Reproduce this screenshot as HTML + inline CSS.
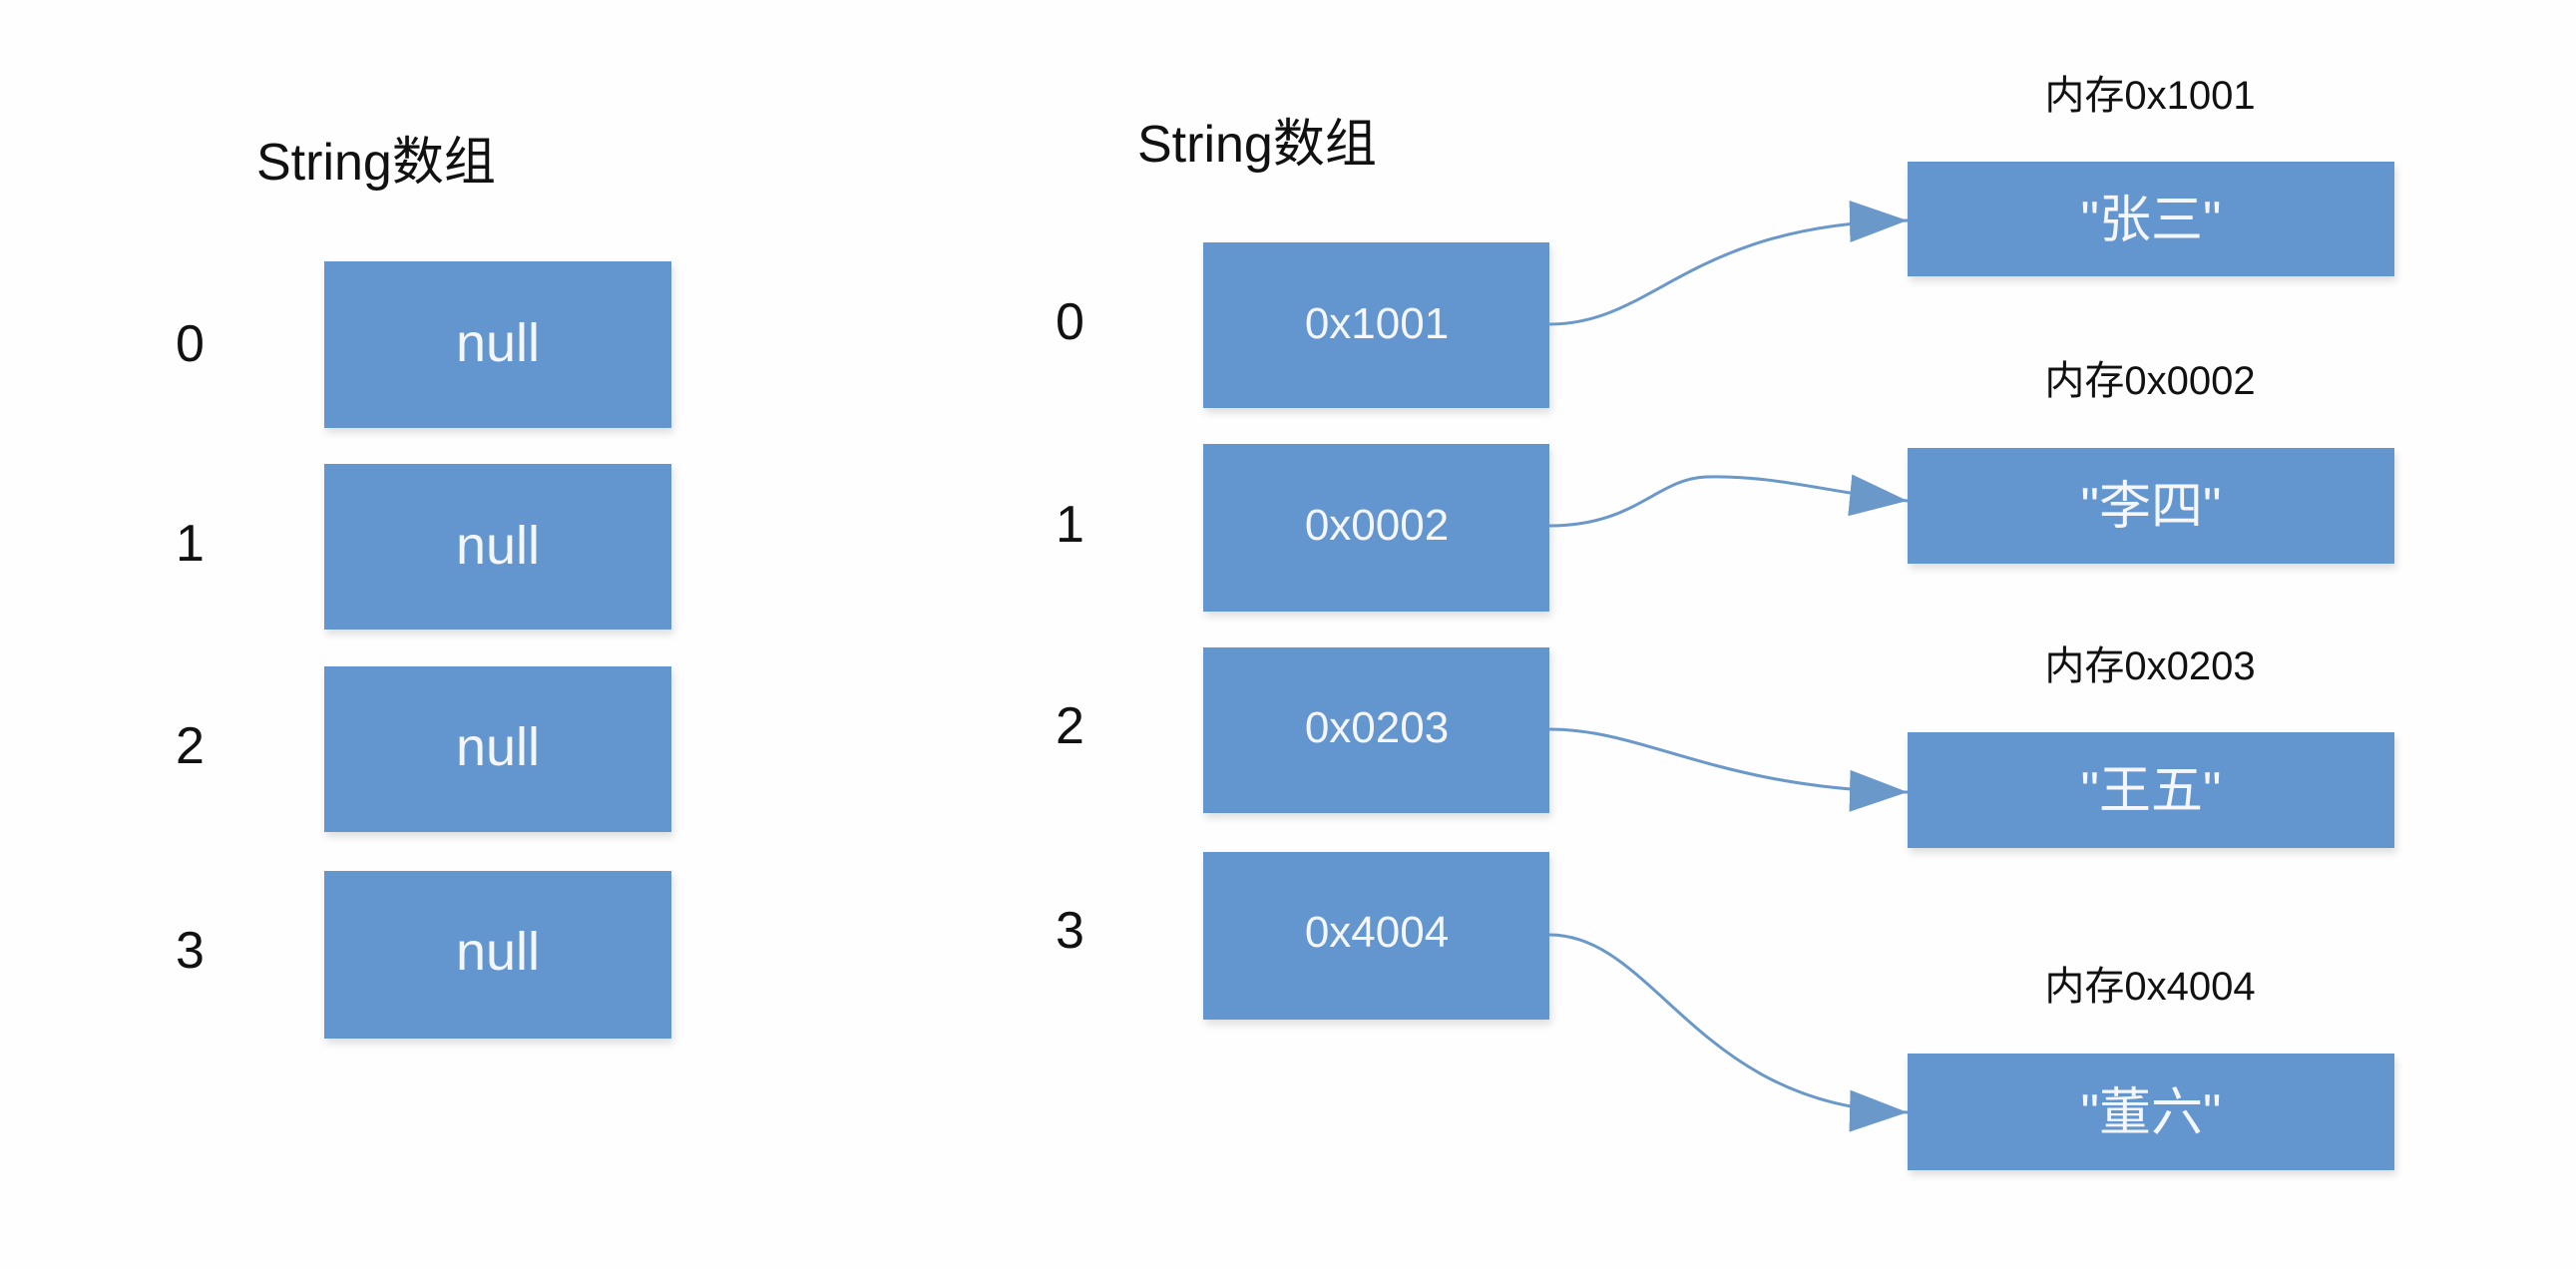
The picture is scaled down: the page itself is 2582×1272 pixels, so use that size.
<!DOCTYPE html>
<html><head><meta charset="utf-8"><style>
html,body{margin:0;padding:0;background:#fefefe;}
svg{display:block;}
text{font-family:"Liberation Sans","Noto Sans CJK SC",sans-serif;}
</style></head><body>
<svg width="2582" height="1272" viewBox="0 0 2582 1272" xmlns="http://www.w3.org/2000/svg">
<rect x="0" y="0" width="2582" height="1272" fill="#fefefe"/>
<defs>
<marker id="ah" markerWidth="60" markerHeight="44" refX="58" refY="21" orient="auto" markerUnits="userSpaceOnUse">
<path d="M0,0 L58,21 L0,42 Z" fill="#6a98c9"/>
</marker>
<filter id="sh" x="-5%" y="-5%" width="110%" height="125%"><feDropShadow dx="2" dy="5" stdDeviation="4" flood-color="#000" flood-opacity="0.12"/></filter>
</defs>
<g fill="#111" font-size="52">
<text x="257" y="180">String数组</text>
<text x="1140" y="162">String数组</text>
<text x="176" y="362">0</text>
<text x="176" y="562">1</text>
<text x="176" y="765">2</text>
<text x="176" y="970">3</text>
<text x="1058" y="340">0</text>
<text x="1058" y="543">1</text>
<text x="1058" y="745">2</text>
<text x="1058" y="950">3</text>
</g>
<g fill="#6396cf" filter="url(#sh)">
<rect x="325" y="262" width="348" height="167"/>
<rect x="325" y="465" width="348" height="166"/>
<rect x="325" y="668" width="348" height="166"/>
<rect x="325" y="873" width="348" height="168"/>
<rect x="1206" y="243" width="347" height="166"/>
<rect x="1206" y="445" width="347" height="168"/>
<rect x="1206" y="649" width="347" height="166"/>
<rect x="1206" y="854" width="347" height="168"/>
<rect x="1912" y="162" width="488" height="115"/>
<rect x="1912" y="449" width="488" height="116"/>
<rect x="1912" y="734" width="488" height="116"/>
<rect x="1912" y="1056" width="488" height="117"/>
</g>
<g fill="#f4f6fa" font-size="54" text-anchor="middle">
<text x="499" y="362">null</text>
<text x="499" y="565">null</text>
<text x="499" y="767">null</text>
<text x="499" y="972">null</text>
</g>
<g fill="#f4f6fa" font-size="44" text-anchor="middle">
<text x="1380" y="339">0x1001</text>
<text x="1380" y="541">0x0002</text>
<text x="1380" y="744">0x0203</text>
<text x="1380" y="949">0x4004</text>
</g>
<g fill="#f4f6fa" font-size="52" text-anchor="middle">
<text x="2156" y="238">"张三"</text>
<text x="2156" y="525">"李四"</text>
<text x="2156" y="810">"王五"</text>
<text x="2156" y="1133">"董六"</text>
</g>
<g fill="#111" font-size="40" text-anchor="middle">
<text x="2155" y="109">内存0x1001</text>
<text x="2155" y="395">内存0x0002</text>
<text x="2155" y="681">内存0x0203</text>
<text x="2155" y="1002">内存0x4004</text>
</g>
<g fill="none" stroke="#6a98c9" stroke-width="3" marker-end="url(#ah)">
<path d="M1553,325 C1660,325 1690,225 1912,221"/>
<path d="M1553,527 C1640,527 1660,480 1710,478 C1780,476 1840,495 1912,502"/>
<path d="M1553,731 C1650,731 1720,790 1912,794"/>
<path d="M1553,937 C1660,937 1700,1110 1912,1115"/>
</g>
</svg>
</body></html>
